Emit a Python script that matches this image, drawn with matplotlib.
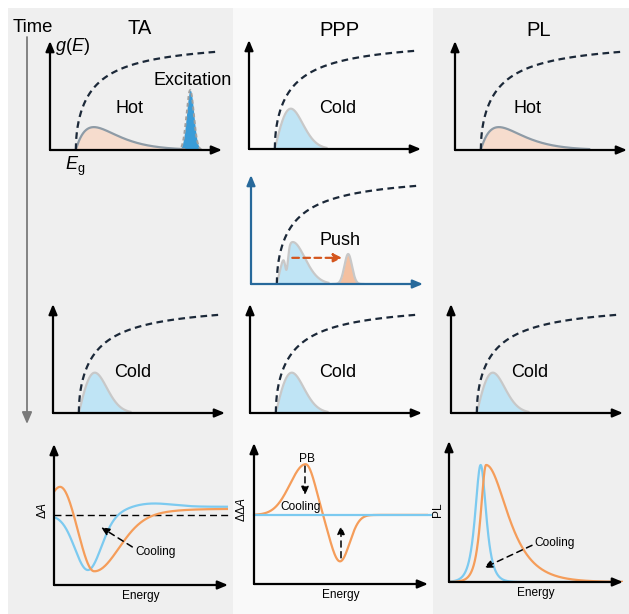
import numpy as np
import matplotlib

matplotlib.use("Agg")
import matplotlib.pyplot as plt
from matplotlib.patches import Rectangle

plt.rcParams["font.family"] = ["Liberation Sans", "DejaVu Sans"]
plt.rcParams["mathtext.fontset"] = "custom"
plt.rcParams["mathtext.rm"] = "Liberation Sans"
plt.rcParams["mathtext.it"] = "Liberation Sans:italic"

W, H = 629, 614

# colours
HOT_FILL = "#f6dccd"
HOT_EDGE = "#8e9ba6"
COLD_FILL = "#bfe4f5"
COLD_EDGE = "#c8c8c8"
ORANGE = "#f59d5a"
BLUE = "#7ccaf0"
DOS_COLOR = "#1b2838"
PUSH_AXIS = "#27699b"
PUSH_ORANGE = "#f4c0a0"
ARROW_RED = "#d4561e"
EXC_BLUE = "#3a9cd8"

# density of states, saturating square-root edge, energies in panel units
EG = 0.15
DOS_SAT = 0.23
DOS_END = [0.96, 0.90]          # energy, height where the dashed curve stops

# carrier distributions: peak offset above Eg, peak height, extent above Eg
HOT_DIST = [0.105, 0.21, 0.63]
COLD_DIST = [0.093, 0.37, 0.30]
PUSH_DIST = [0.093, 0.385, 0.30]
PUSH_HOLE = [0.057, 0.19, 0.009]     # offset, depth, width of the pushed-out dip

# narrow pulses: centre, height, width
EXCITATION = [0.815, 0.55, 0.021]
PUSH_PULSE = [0.565, 0.275, 0.022]
PUSH_SHIFT = [0.24, 0.53, 0.24]      # arrow x start, x end, height

# TA spectra (dA): baseline, step [height, centre, width],
# bleach [depth, centre, sigma left, sigma right], induced band [height, centre, sigma]
TA_BASE = 0.495
TA_HOT_STEP = [0.045, 0.60, 0.10]
TA_HOT_BLEACH = [0.40, 0.23, 0.07, 0.14]
TA_HOT_PIA = [0.21, 0.04, 0.06]
TA_COLD_STEP = [0.06, 0.40, 0.05]
TA_COLD_BLEACH = [0.39, 0.195, 0.075, 0.075]
TA_COLD_PIA = [0.025, 0.56, 0.12]

# PPP difference spectrum: bleach [height, centre, sigma left, sigma right] and dip
PPP_BASE = 0.49
PPP_PB = [0.36, 0.297, 0.09, 0.055]
PPP_DIP = [-0.33, 0.494, 0.055, 0.055]

# PL spectra: peak centre, height, rise width, decay width
PL_HOT = [0.213, 0.83, 0.027, 0.11]
PL_COLD = [0.182, 0.83, 0.028, 0.028]

fig = plt.figure(figsize=(W / 100, H / 100), dpi=100)

# full-figure layer in pixel units for column shading and headings
bg = fig.add_axes([0, 0, 1, 1], zorder=-5)
bg.set_xlim(0, W)
bg.set_ylim(H, 0)
bg.axis("off")
bg.add_patch(Rectangle((8, 8), 225, 606, color="#efefef", lw=0))
bg.add_patch(Rectangle((233, 8), 200, 606, color="#f9f9f9", lw=0))
bg.add_patch(Rectangle((433, 8), 196, 606, color="#efefef", lw=0))
bg.text(33, 28, "Time", fontsize=13.3, ha="center", va="center")
bg.text(140, 29, "TA", fontsize=14.5, ha="center", va="center")
bg.text(339, 30, "PPP", fontsize=14.5, ha="center", va="center")
bg.text(539, 30, "PL", fontsize=14.5, ha="center", va="center")
bg.annotate("", xy=(27, 424), xytext=(27, 37),
            arrowprops=dict(arrowstyle="-|>,head_length=0.7,head_width=0.3",
                            color="#7a7a7a", lw=1.3, shrinkA=0, shrinkB=0))


def panel_axes(ox, oy, w, h):
    ax = fig.add_axes([ox / W, 1 - oy / H, w / W, h / H])
    ax.set_xlim(0, 1)
    ax.set_ylim(0, 1)
    ax.axis("off")
    return ax


def axis_arrows(ax, color="black"):
    style = dict(arrowstyle="-|>,head_length=0.6,head_width=0.25",
                 color=color, lw=1.6, shrinkA=0, shrinkB=0)
    ax.annotate("", xy=(1, 0), xytext=(0, 0), arrowprops=style,
                annotation_clip=False, zorder=6)
    ax.annotate("", xy=(0, 1), xytext=(0, 0), arrowprops=style,
                annotation_clip=False, zorder=6)


def dos(ax):
    x = np.linspace(EG, DOS_END[0], 400)
    shape = lambda d: np.sqrt(d / (d + DOS_SAT))
    amp = DOS_END[1] / shape(DOS_END[0] - EG)
    ax.plot(x, amp * shape(x - EG), color=DOS_COLOR, lw=1.6,
            ls=(0, (3, 2)), zorder=5, clip_on=False)


def hot_shape(x, offset, height):
    d = np.clip(x - EG, 0, None)
    return height * d / offset * np.exp(1 - d / offset)


def cold_shape(x, offset, height):
    d = np.clip(x - EG, 0, None)
    return height * d / offset * np.exp(0.5 - 0.5 * (d / offset) ** 2)


def pulse(x, centre, height, width):
    return height * np.exp(-0.5 * ((x - centre) / width) ** 2)


def asym_gauss(x, height, centre, sl, sr):
    s = np.where(x < centre, sl, sr)
    return height * np.exp(-0.5 * ((x - centre) / s) ** 2)


def sigmoid(x, height, centre, width):
    return height / (1 + np.exp(-(x - centre) / width))


def asym_sech(x, centre, height, wl, wr):
    w = np.where(x < centre, wl, wr)
    return height / np.cosh((x - centre) / w)


def distribution(ax, kind):
    if kind == "hot":
        offset, height, extent = HOT_DIST
        x = np.linspace(EG, EG + extent, 300)
        y = hot_shape(x, offset, height)
        fill, edge = HOT_FILL, HOT_EDGE
    else:
        offset, height, extent = COLD_DIST
        x = np.linspace(EG, EG + extent, 300)
        y = cold_shape(x, offset, height)
        fill, edge = COLD_FILL, COLD_EDGE
    ax.fill_between(x, 0, y, color=fill, lw=0, zorder=2)
    ax.plot(x, y, color=edge, lw=1.6, zorder=3)


TXT = 13
SIZE_TOP = (172, 109)
SIZE_BOT = (174, 141)

# ---- first row: right after excitation
ax = panel_axes(50, 150, *SIZE_TOP)
axis_arrows(ax)
dos(ax)
distribution(ax, "hot")
xe = np.linspace(EXCITATION[0] - 4 * EXCITATION[2], EXCITATION[0] + 4 * EXCITATION[2], 200)
ye = pulse(xe, *EXCITATION)
ax.fill_between(xe, 0, ye, color=EXC_BLUE, lw=0, zorder=2)
ax.plot(xe, ye, color="#a0a0a0", lw=1.4, ls=(0, (2, 1.5)), zorder=3)
ax.text(0.465, 0.385, "Hot", fontsize=TXT, ha="center", va="center")
ax.text(0.83, 0.64, "Excitation", fontsize=TXT, ha="center", va="center")
ax.text(0.03, 0.945, "$g(E)$", fontsize=TXT, ha="left", va="center")
ax.text(0.145, -0.15, r"$E_\mathrm{g}$", fontsize=TXT, ha="center", va="center")

ax = panel_axes(249, 149, *SIZE_TOP)
axis_arrows(ax)
dos(ax)
distribution(ax, "cold")
ax.text(0.517, 0.376, "Cold", fontsize=TXT, ha="center", va="center")

ax = panel_axes(455, 150, *SIZE_TOP)
axis_arrows(ax)
dos(ax)
distribution(ax, "hot")
ax.text(0.424, 0.385, "Hot", fontsize=TXT, ha="center", va="center")

# ---- push panel
ax = panel_axes(251, 284, *SIZE_TOP)
axis_arrows(ax, PUSH_AXIS)
dos(ax)
xp = np.linspace(EG, EG + PUSH_DIST[2], 400)
yp = cold_shape(xp, PUSH_DIST[0], PUSH_DIST[1]) - pulse(xp - EG, *PUSH_HOLE)
yp = np.clip(yp, 0, None)
ax.fill_between(xp, 0, yp, color=COLD_FILL, lw=0, zorder=2)
ax.plot(xp, yp, color=COLD_EDGE, lw=1.6, zorder=3)
xq = np.linspace(PUSH_PULSE[0] - 4 * PUSH_PULSE[2], PUSH_PULSE[0] + 4 * PUSH_PULSE[2], 200)
yq = pulse(xq, *PUSH_PULSE)
ax.fill_between(xq, 0, yq, color=PUSH_ORANGE, lw=0, zorder=2)
ax.plot(xq, yq, color=COLD_EDGE, lw=1.6, zorder=3)
ax.annotate("", xy=(PUSH_SHIFT[1], PUSH_SHIFT[2]), xytext=(PUSH_SHIFT[0], PUSH_SHIFT[2]),
            arrowprops=dict(arrowstyle="-|>,head_length=0.5,head_width=0.25",
                            color=ARROW_RED, lw=1.6, ls=(0, (3, 2)),
                            shrinkA=0, shrinkB=0), zorder=6)
ax.text(0.517, 0.40, "Push", fontsize=TXT, ha="center", va="center")

# ---- second row: after cooling
for ox, label_x in [(53, 0.465), (250, 0.51), (451, 0.46)]:
    ax = panel_axes(ox, 413, *SIZE_TOP)
    axis_arrows(ax)
    dos(ax)
    distribution(ax, "cold")
    ax.text(label_x, 0.376, "Cold", fontsize=TXT, ha="center", va="center")

SMALL = 8.6
dashed_arrow = dict(arrowstyle="-|>,head_length=0.5,head_width=0.22",
                    color="black", lw=1.1, ls=(0, (4, 3)), shrinkA=0, shrinkB=0)

# ---- bottom row: spectra
x = np.linspace(0, 1, 500)

ax = panel_axes(54, 585, *SIZE_BOT)
axis_arrows(ax)
ta_hot = (TA_BASE + sigmoid(x, *TA_HOT_STEP) - asym_gauss(x, *TA_HOT_BLEACH)
          + pulse(x, TA_HOT_PIA[1], TA_HOT_PIA[0], TA_HOT_PIA[2]))
ta_cold = (TA_BASE + sigmoid(x, *TA_COLD_STEP) - asym_gauss(x, *TA_COLD_BLEACH)
           + pulse(x, TA_COLD_PIA[1], TA_COLD_PIA[0], TA_COLD_PIA[2]))
ax.plot([0, 1.01], [TA_BASE, TA_BASE], color="black", lw=1.0, ls=(0, (5, 3)), clip_on=False)
ax.plot(x, ta_cold, color=BLUE, lw=1.6)
ax.plot(x, ta_hot, color=ORANGE, lw=1.6)
ax.annotate("", xy=(0.27, 0.41), xytext=(0.45, 0.27), arrowprops=dashed_arrow)
ax.text(0.47, 0.235, "Cooling", fontsize=SMALL, ha="left", va="center")
ax.text(0.5, -0.075, "Energy", fontsize=SMALL, ha="center", va="center")
ax.text(-0.065, 0.53, r"$\Delta A$", fontsize=SMALL, ha="center", va="center", rotation=90)

ax = panel_axes(254, 584, *SIZE_BOT)
axis_arrows(ax)
ppp = PPP_BASE + asym_gauss(x, *PPP_PB) + asym_gauss(x, *PPP_DIP)
ax.plot(x, ppp, color=ORANGE, lw=1.6)
ax.plot([0, 1.02], [PPP_BASE, PPP_BASE], color=BLUE, lw=1.6, clip_on=False)
ax.annotate("", xy=(0.293, 0.63), xytext=(0.293, 0.836), arrowprops=dashed_arrow)
ax.annotate("", xy=(0.5, 0.414), xytext=(0.5, 0.186), arrowprops=dashed_arrow)
ax.text(0.305, 0.89, "PB", fontsize=SMALL, ha="center", va="center")
ax.text(0.265, 0.543, "Cooling", fontsize=SMALL, ha="center", va="center")
ax.text(0.5, -0.075, "Energy", fontsize=SMALL, ha="center", va="center")
ax.text(-0.07, 0.53, r"$\Delta\Delta A$", fontsize=SMALL, ha="center", va="center", rotation=90)

ax = panel_axes(449, 582, *SIZE_BOT)
axis_arrows(ax)
ax.plot(x, asym_sech(x, *PL_COLD), color=BLUE, lw=1.6)
ax.plot(x, asym_sech(x, *PL_HOT), color=ORANGE, lw=1.6)
ax.annotate("", xy=(0.2, 0.1), xytext=(0.477, 0.26), arrowprops=dashed_arrow)
ax.text(0.49, 0.28, "Cooling", fontsize=SMALL, ha="left", va="center")
ax.text(0.5, -0.075, "Energy", fontsize=SMALL, ha="center", va="center")
ax.text(-0.065, 0.51, "PL", fontsize=SMALL, ha="center", va="center", rotation=90)

fig.savefig("out.png", dpi=100)
